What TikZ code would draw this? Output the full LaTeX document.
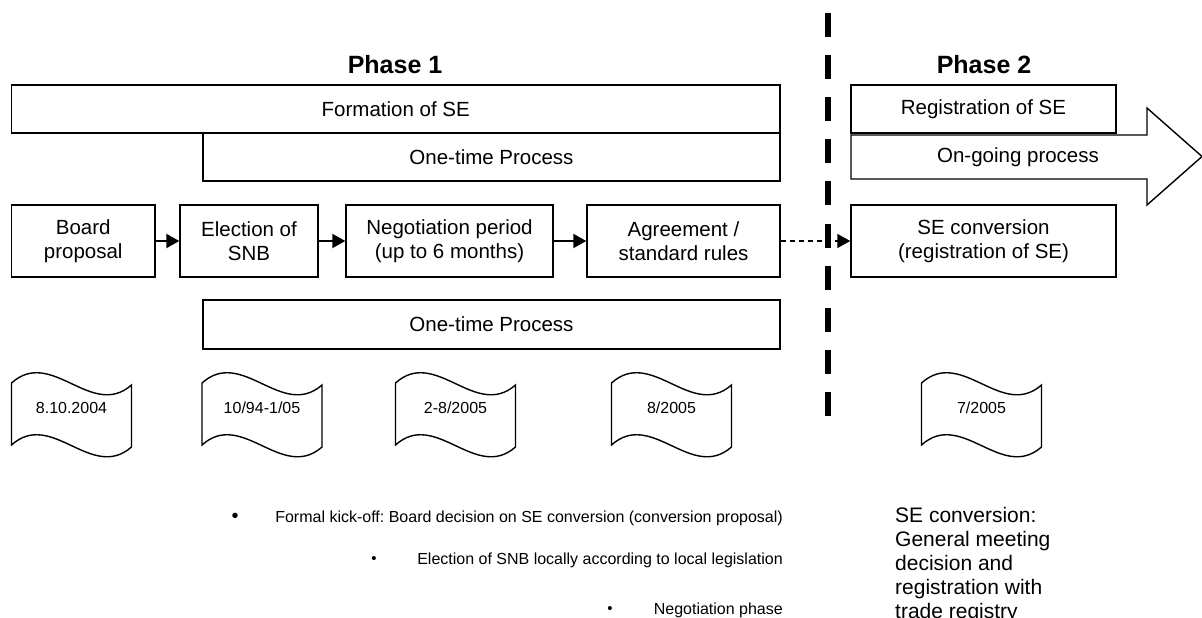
\documentclass[tikz,border=0pt]{standalone}
\usepackage{fontspec}
\setmainfont{Liberation Sans}
\usetikzlibrary{arrows.meta}
\frenchspacing

\tikzset{
    procbox/.style={draw, line width=1.4pt, align=center, inner sep=0pt, minimum height=72pt, font=\fontsize{20.5}{24}\selectfont},
    barbox/.style={draw, line width=1.4pt, inner sep=0pt, minimum height=48pt, font=\fontsize{20.5}{24}\selectfont},
    phasetitle/.style={font=\fontsize{25}{30}\selectfont\bfseries},
    datetext/.style={font=\fontsize{16}{19}\selectfont},
    docline/.style={line width=1.4pt},
    flowarrow/.style={line width=2pt, -{Triangle[length=13pt, width=14pt]}},
    divider/.style={line width=6pt, dash pattern=on 24pt off 18.1pt},
    notetext/.style={anchor=east, inner sep=0pt, font=\fontsize{16}{19}\selectfont},
    bulletdot/.style={inner sep=0pt}
}

\begin{document}
\begin{tikzpicture}[x=1pt, y=-1pt]
    \clip (0,0) rectangle (1202,618);

    % Phasen.
    \node[phasetitle] (phase1) at (395,65) {Phase 1};
    \node[phasetitle] (phase2) at (984,65) {Phase 2};

    % Balken oben.
    \node[barbox, minimum width=768.5pt] (formation) at (395.75,109) {Formation of SE};
    \node[barbox, minimum width=577pt] (onetimeA) at (491.5,157) {One-time Process};
    \node[barbox, minimum width=265pt] (registration) at (983.5,109) {Registration of SE};

    % Pfeil rechts.
    \draw[line width=1.4pt] (851,135) -- (1147,135) -- (1147,108) -- (1202,156.5)
        -- (1147,205) -- (1147,179) -- (851,179) -- cycle;
    \node[font=\fontsize{20.5}{24}\selectfont] (ongoing) at (1018,157) {On-going process};

    % Trennlinie.
    \coordinate (divtop) at (828,13);
    \coordinate (divbot) at (828,416);
    \draw[divider] (divtop) -- (divbot);

    % Prozessschritte.
    \node[procbox, minimum width=143.5pt] (board) at (83.25,241) {Board\\proposal};
    \node[procbox, minimum width=138pt] (election) at (249,241) {Election of\\SNB};
    \node[procbox, minimum width=207pt] (negotiation) at (449.5,241) {Negotiation period\\(up to 6 months)};
    \node[procbox, minimum width=193pt] (agreement) at (683.5,241) {Agreement /\\standard rules};
    \node[procbox, minimum width=265pt] (conversion) at (983.5,241) {SE conversion\\(registration of SE)};

    \draw[flowarrow] (board) -- (election);
    \draw[flowarrow] (election) -- (negotiation);
    \draw[flowarrow] (negotiation) -- (agreement);
    \draw[flowarrow, line width=1.5pt, dash pattern=on 5pt off 4pt] (agreement) -- (conversion);

    \node[barbox, minimum width=577pt, minimum height=49pt] (onetimeB) at (491.5,324.5) {One-time Process};

    % Termine.
    \foreach \x/\d/\n in {71.5/{8.10.2004}/dateA, 262/{10/94-1/05}/dateB, 455.5/{2-8/2005}/dateC, 671.5/{8/2005}/dateD, 981.5/{7/2005}/dateE}
    {
        \node[datetext] (\n) at (\x,408) {\d};
        \draw[docline] ({\x-60},383) .. controls ({\x-20},347) and ({\x+20},420) .. ({\x+60},385)
            -- ({\x+60},447) .. controls ({\x+20},482) and ({\x-20},409) .. ({\x-60},445) -- cycle;
    }

    % Stichpunkte.
    \node[notetext] (noteA) at (783,518) {Formal kick-off: Board decision on SE conversion (conversion proposal)};
    \node[notetext] (noteB) at (783,560) {Election of SNB locally according to local legislation};
    \node[notetext] (noteC) at (783,610) {Negotiation phase};
    \node[bulletdot, font=\fontsize{20}{20}\selectfont] (dotA) at (235,518) {•};
    \node[bulletdot, font=\fontsize{15}{15}\selectfont] (dotB) at (374,560) {•};
    \node[bulletdot, font=\fontsize{15}{15}\selectfont] (dotC) at (610,610) {•};

    \node[anchor=north west, inner sep=0pt, align=left, font=\fontsize{21}{24}\selectfont] (summary) at (895,507)
        {SE conversion:\\General meeting\\decision and\\registration with\\trade registry};
\end{tikzpicture}
\end{document}
